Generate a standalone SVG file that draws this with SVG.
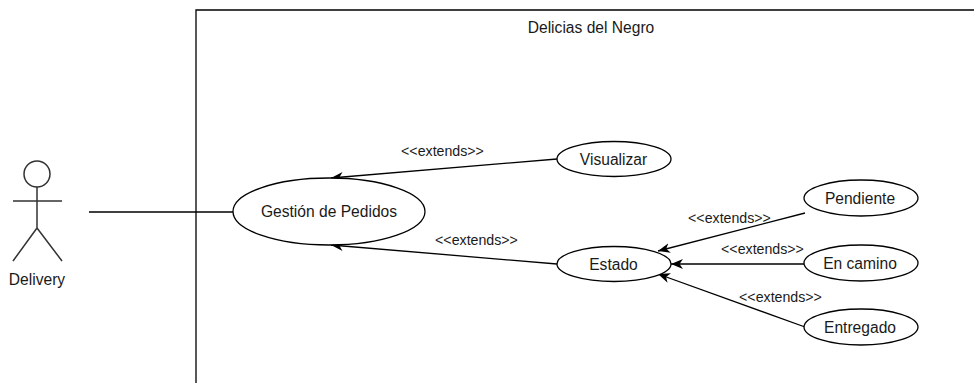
<svg xmlns="http://www.w3.org/2000/svg" width="974" height="383" viewBox="0 0 974 383">
<style>
text{font-family:"Liberation Sans",Arial,sans-serif;font-size:15.6px;fill:#1a1a1a;text-anchor:middle}
.l{font-size:14.2px}
.n{fill:#fff;stroke:#000;stroke-width:1.3}
.c{fill:none;stroke:#000;stroke-width:1.3}
.a{stroke:#333;stroke-width:1.5}
</style>
<defs><marker id="a" markerWidth="14" markerHeight="12" refX="12" refY="6" orient="auto" markerUnits="userSpaceOnUse"><path d="M0 1L12 6L0 11L3.500 6Z" fill="#000"/></marker></defs>
<rect width="974" height="383" fill="#fff"/>
<g id="boundary"><path class="c" d="M196 383V10H974"/><text x="591" y="32.500">Delicias del Negro</text></g>
<g id="connectors">
<path class="c" d="M89 212H233"/>
<path class="c" marker-end="url(#a)" d="M557 159L331 178"/>
<path class="c" marker-end="url(#a)" d="M557 264L331 245"/>
<path class="c" marker-end="url(#a)" d="M805 213L658 251"/>
<path class="c" marker-end="url(#a)" d="M804 264H671"/>
<path class="c" marker-end="url(#a)" d="M805 327L658 274"/>
<text class="l" x="442.500" y="155.500">&lt;&lt;extends&gt;&gt;</text>
<text class="l" x="476.500" y="244.500">&lt;&lt;extends&gt;&gt;</text>
<text class="l" x="729.500" y="222.500">&lt;&lt;extends&gt;&gt;</text>
<text class="l" x="762.500" y="253.500">&lt;&lt;extends&gt;&gt;</text>
<text class="l" x="780.500" y="301.500">&lt;&lt;extends&gt;&gt;</text>
</g>
<g id="actor"><circle class="c a" cx="37" cy="174" r="13"/><path class="c a" d="M37 187V228M13 201H62M37 228L13 261M37 228L62 261"/><text x="37" y="285">Delivery</text></g>
<g id="gestion"><ellipse class="n" cx="329" cy="211.500" rx="96" ry="33.500"/><text x="329" y="217">Gestión de Pedidos</text></g>
<g id="visualizar"><ellipse class="n" cx="614" cy="159" rx="57" ry="17.500"/><text x="613.500" y="164.500">Visualizar</text></g>
<g id="estado"><ellipse class="n" cx="614" cy="264" rx="57" ry="17.500"/><text x="613.500" y="269.500">Estado</text></g>
<g id="pendiente"><ellipse class="n" cx="861" cy="198" rx="57" ry="18"/><text x="860" y="203.500">Pendiente</text></g>
<g id="encamino"><ellipse class="n" cx="861" cy="263" rx="57" ry="18"/><text x="860" y="268.500">En camino</text></g>
<g id="entregado"><ellipse class="n" cx="861" cy="327" rx="57" ry="18"/><text x="860" y="332.500">Entregado</text></g>
</svg>
